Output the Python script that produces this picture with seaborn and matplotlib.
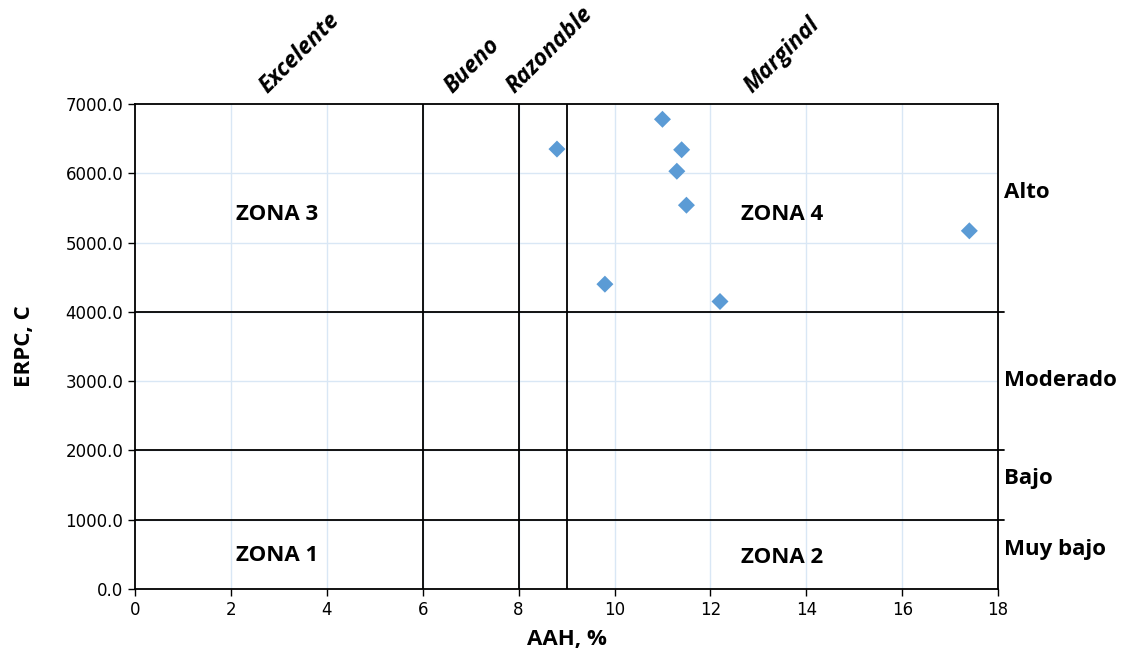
import numpy as np
import pandas as pd
import matplotlib
matplotlib.use("Agg")
import matplotlib.pyplot as plt
import seaborn as sns

# data
aah = [8.8, 9.8, 11.0, 11.3, 11.4, 11.5, 12.2, 17.4]
erpc = [6350, 4400, 6780, 6030, 6340, 5540, 4150, 5170]

# class boundaries
x_limits = [6, 8, 9]
y_limits = [1000, 2000, 4000]

top_labels = ["Excelente", "Bueno", "Razonable", "Marginal"]
top_x = [2.85, 6.7, 8.0, 12.95]

right_labels = ["Alto", "Moderado", "Bajo", "Muy bajo"]
right_y = [5720, 3010, 1600, 570]

zone_labels = ["ZONA 3", "ZONA 4", "ZONA 1", "ZONA 2"]
zone_x = [2.97, 13.5, 2.97, 13.5]
zone_y = [5400, 5400, 490, 460]

df = pd.DataFrame({"AAH": aah, "ERPC": erpc})

sns.set_style("white")
plt.rcParams["font.family"] = ["DejaVu Sans"]
plt.rcParams["text.color"] = "black"
bold_font = ["Open Sans", "DejaVu Sans"]

fig = plt.figure(figsize=(11.24, 6.51), dpi=100)
ax = fig.add_axes([0.1201, 0.0952, 0.7679, 0.7450])

# light grid
for gx in range(2, 18, 2):
    ax.axvline(gx, color="#d9e7f5", lw=1, zorder=0)
for gy in range(1000, 7000, 1000):
    ax.axhline(gy, color="#d9e7f5", lw=1, zorder=0)

# boundary lines
for xv in x_limits:
    ax.axvline(xv, color="black", lw=1.3, zorder=1)
for yv in y_limits:
    ax.plot([0, 18.12], [yv, yv], color="black", lw=1.3, zorder=1, clip_on=False)

sns.scatterplot(data=df, x="AAH", y="ERPC", marker="D", s=75, color="#5b9bd5",
                edgecolor="none", linewidth=0, ax=ax, zorder=3)

ax.set_xlim(0, 18)
ax.set_ylim(0, 7000)
ax.set_xticks(range(0, 19, 2))
ax.set_yticks(range(0, 7001, 1000))
ax.set_yticklabels([f"{v:.1f}" for v in range(0, 7001, 1000)])
ax.tick_params(axis="both", labelsize=12, length=5, width=1, direction="out",
               bottom=True, left=True, colors="black")
for s in ax.spines.values():
    s.set_color("black")
    s.set_linewidth(1.3)

ax.set_xlabel("AAH, %", fontsize=16, fontweight="bold", family=bold_font, color="black")
ax.set_ylabel("ERPC, C", fontsize=16, fontweight="bold", family=bold_font, color="black")
ax.xaxis.set_label_coords(0.5, -0.082)
ax.yaxis.set_label_coords(-0.116, 0.5)

for lab, xv in zip(top_labels, top_x):
    ax.text(xv, 7080, lab, rotation=45, rotation_mode="anchor", ha="left", va="bottom",
            fontsize=16.5, fontweight="bold", fontstyle="italic", family=bold_font, color="black")

for lab, yv in zip(right_labels, right_y):
    ax.text(1.007, yv, lab, transform=ax.get_yaxis_transform(), ha="left", va="center",
            fontsize=16, fontweight="bold", family=bold_font, color="black")

for lab, xv, yv in zip(zone_labels, zone_x, zone_y):
    ax.text(xv, yv, lab, ha="center", va="center", fontsize=16, fontweight="bold",
            family=bold_font, color="black")

fig.savefig("out.png", dpi=100)
